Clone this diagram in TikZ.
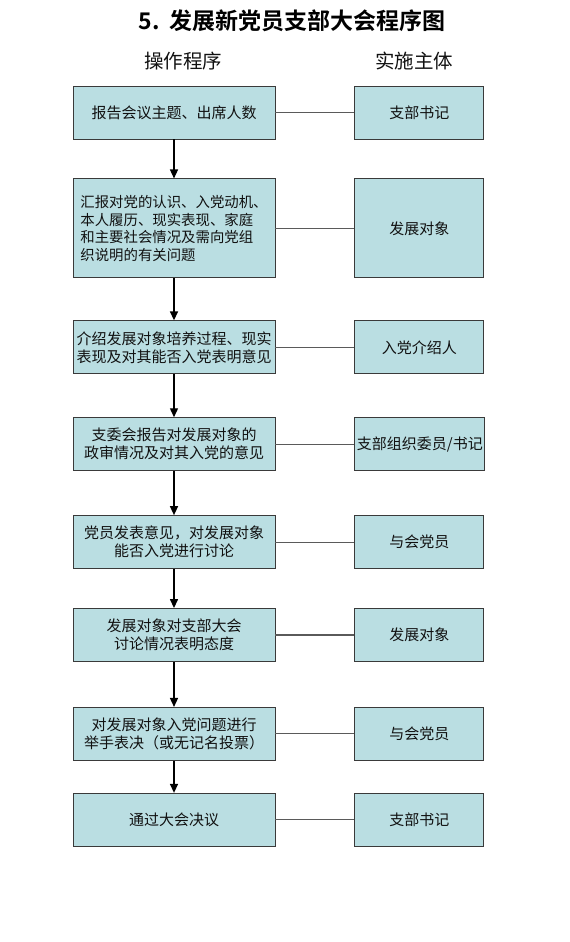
\documentclass[tikz,border=0pt]{standalone}
\usepackage{fontspec}
\setmainfont{Noto Sans CJK SC}[BoldFont={Noto Sans CJK SC Bold}]
\usetikzlibrary{arrows.meta, positioning}
\definecolor{boxFill}{HTML}{BADEE2}
\definecolor{boxLine}{HTML}{3A3A3A}
\definecolor{linkGray}{HTML}{5A5A5A}
\definecolor{textDark}{HTML}{111111}

\begin{document}
\begin{tikzpicture}[x=1pt, y=-1pt,
        box/.style={rectangle, draw=boxLine, line width=0.9pt, fill=boxFill,
          minimum width=202pt, minimum height=53pt, inner sep=2pt,
          font=\fontsize{15}{18}\selectfont, align=center, text=textDark},
        actor/.style={box, minimum width=129pt},
        flow/.style={-{Triangle[width=8pt,length=9pt]}, line width=1.4pt, draw=black},
        link/.style={line width=1.1pt, draw=linkGray},
        head/.style={font=\fontsize{19.5}{22}\selectfont, text=textDark}
      ]
        \useasboundingbox (0,0) rectangle (570,942);

        \node[font=\fontsize{23}{26}\selectfont\bfseries] (title) at (292,21) {5.\hspace{10pt}发展新党员支部大会程序图};
        \node[head] (hl) at (183,61) {操作程序};
        \node[head] (hr) at (414,61) {实施主体};

        % left column: procedure
        \node[box] (p1) at (174,112.5) {报告会议主题、出席人数};
        \node[box, minimum height=99pt, align=left, font=\fontsize{14.4}{17.7}\selectfont,
          below=39pt of p1]
          (p2) {汇报对党的认识、入党动机、\\本人履历、现实表现、家庭\\和主要社会情况及需向党组\\织说明的有关问题};
        \node[box, below=42pt of p2] (p3) {介绍发展对象培养过程、现实\\表现及对其能否入党表明意见};
        \node[box, below=43pt of p3] (p4) {支委会报告对发展对象的\\政审情况及对其入党的意见};
        \node[box, below=44pt of p4] (p5) {党员发表意见，对发展对象\\能否入党进行讨论};
        \node[box, below=39pt of p5] (p6) {发展对象对支部大会\\讨论情况表明态度};
        \node[box, below=45pt of p6] (p7) {对发展对象入党问题进行\\举手表决（或无记名投票）};
        \node[box, below=32pt of p7] (p8) {通过大会决议};

        % right column: who carries it out
        \node[actor, right=79pt of p1] (s1) {支部书记};
        \node[actor, minimum height=99pt, right=79pt of p2] (s2) {发展对象};
        \node[actor, right=79pt of p3] (s3) {入党介绍人};
        \node[actor, right=79pt of p4] (s4) {支部组织委员/书记};
        \node[actor, right=79pt of p5] (s5) {与会党员};
        \node[actor, right=79pt of p6] (s6) {发展对象};
        \node[actor, right=79pt of p7] (s7) {与会党员};
        \node[actor, right=79pt of p8] (s8) {支部书记};

        \foreach \i [count=\j from 2] in {1,...,7} {
          \draw[flow] (p\i.south) -- (p\j.north);
        }
        \foreach \i in {1,...,8} {
          \draw[link] (p\i.east) -- (s\i.west);
        }
      \end{tikzpicture}
\end{document}
